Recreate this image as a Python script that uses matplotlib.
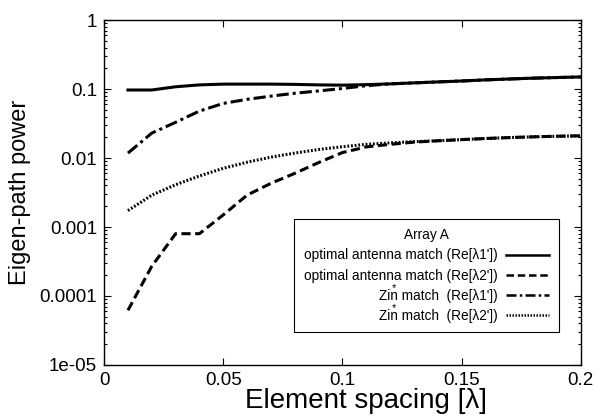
import numpy as np
import matplotlib.pyplot as plt
from matplotlib.ticker import FixedLocator, FixedFormatter, LogLocator, NullFormatter

plt.rcParams['font.family'] = ['Liberation Sans', 'DejaVu Sans']

spacing = [0.01, 0.02, 0.03, 0.04, 0.05, 0.06, 0.07, 0.08, 0.09, 0.10,
           0.11, 0.12, 0.13, 0.14, 0.15, 0.16, 0.17, 0.18, 0.19, 0.20]

opt_l1 = [0.097, 0.097, 0.108, 0.115, 0.118, 0.118, 0.118, 0.117, 0.115, 0.114,
          0.116, 0.119, 0.123, 0.127, 0.131, 0.136, 0.140, 0.144, 0.147, 0.150]
opt_l2 = [6.2e-5, 2.7e-4, 8.0e-4, 8.0e-4, 1.5e-3, 2.9e-3, 4.3e-3, 6.0e-3, 8.6e-3, 0.0120,
          0.0145, 0.0158, 0.0170, 0.0178, 0.0185, 0.0192, 0.0198, 0.0203, 0.0207, 0.0210]
zin_l1 = [0.0118, 0.023, 0.033, 0.048, 0.062, 0.071, 0.079, 0.087, 0.094, 0.102,
          0.112, 0.119, 0.123, 0.127, 0.131, 0.136, 0.140, 0.144, 0.147, 0.150]
zin_l2 = [0.00173, 0.0029, 0.0041, 0.0055, 0.0071, 0.0087, 0.0103, 0.0118, 0.0133, 0.0146,
          0.0158, 0.0166, 0.0173, 0.0178, 0.0185, 0.0192, 0.0198, 0.0203, 0.0207, 0.0210]

labels = ["optimal antenna match (Re[\u03bb1'])",
          "optimal antenna match (Re[\u03bb2'])",
          "Zin match  (Re[\u03bb1'])",
          "Zin match  (Re[\u03bb2'])"]

xticks = [0, 0.05, 0.1, 0.15, 0.2]
xticklabels = ["0", "0.05", "0.1", "0.15", "0.2"]
yticks = [1e-5, 1e-4, 1e-3, 1e-2, 1e-1, 1]
yticklabels = ["1e-05", "0.0001", "0.001", "0.01", "0.1", "1"]

fig = plt.figure(figsize=(5.95, 4.19), dpi=100)
ax = fig.add_axes([0.175, 0.129, 0.801, 0.823])

lw = 2.2
ax.plot(spacing, opt_l1, color='black', lw=lw, ls='-', label=labels[0])
ax.plot(spacing, opt_l2, color='black', lw=lw, ls=(0, (3.0, 1.5)), label=labels[1])
ax.plot(spacing, zin_l1, color='black', lw=lw, ls=(0, (4.0, 1.3, 1.0, 1.3)), label=labels[2])
ax.plot(spacing, zin_l2, color='black', lw=lw, ls=(0, (0.6, 0.6)), label=labels[3])

ax.set_yscale('log')
ax.set_xlim(0, 0.2)
ax.set_ylim(1e-5, 1)

ax.xaxis.set_major_locator(FixedLocator(xticks))
ax.xaxis.set_major_formatter(FixedFormatter(xticklabels))
ax.yaxis.set_major_locator(FixedLocator(yticks))
ax.yaxis.set_major_formatter(FixedFormatter(yticklabels))
ax.yaxis.set_minor_locator(LogLocator(base=10, subs=np.arange(2, 10)))
ax.yaxis.set_minor_formatter(NullFormatter())

ax.tick_params(which='both', direction='in', top=True, right=True,
               labelsize=13.5, pad=5, width=0.8)
ax.tick_params(which='major', length=5)
ax.tick_params(which='minor', length=2.5)
for s in ax.spines.values():
    s.set_linewidth(1.0)

ax.set_xlabel("Element spacing [\u03bb]", fontsize=20)
ax.xaxis.set_label_coords(0.549, -0.068, transform=ax.transAxes)
ax.xaxis.label.set_va('top')
ax.set_ylabel("Eigen-path power", fontsize=17, labelpad=6)

leg_fs = 9.8
leg = ax.legend(loc='lower right', bbox_to_anchor=(0.968, 0.075),
                title="Array A", title_fontsize=leg_fs, fontsize=leg_fs,
                markerfirst=False, handlelength=3.2, handletextpad=0.6,
                labelspacing=0.45, borderpad=0.7, fancybox=False,
                edgecolor='black', framealpha=1)
leg.get_frame().set_linewidth(0.8)
for h in leg.get_lines():
    h.set_linewidth(1.8)

# conjugate star sits over the "n" of Zin
fig.canvas.draw()
renderer = fig.canvas.get_renderer()
probe = fig.text(0, 0, "Zi", fontsize=leg_fs)
w_zi = probe.get_window_extent(renderer).width
probe.set_text("Zin")
w_zin = probe.get_window_extent(renderer).width
probe.remove()
for txt in leg.get_texts()[2:]:
    bb = txt.get_window_extent(renderer)
    xs = bb.x0 + (w_zi + w_zin) / 2
    ys = bb.y0 + bb.height * 0.66
    fig.text(xs / fig.bbox.width, ys / fig.bbox.height, "*", fontsize=8,
             ha='center', va='bottom', zorder=10)

fig.savefig('out.png', dpi=100)
